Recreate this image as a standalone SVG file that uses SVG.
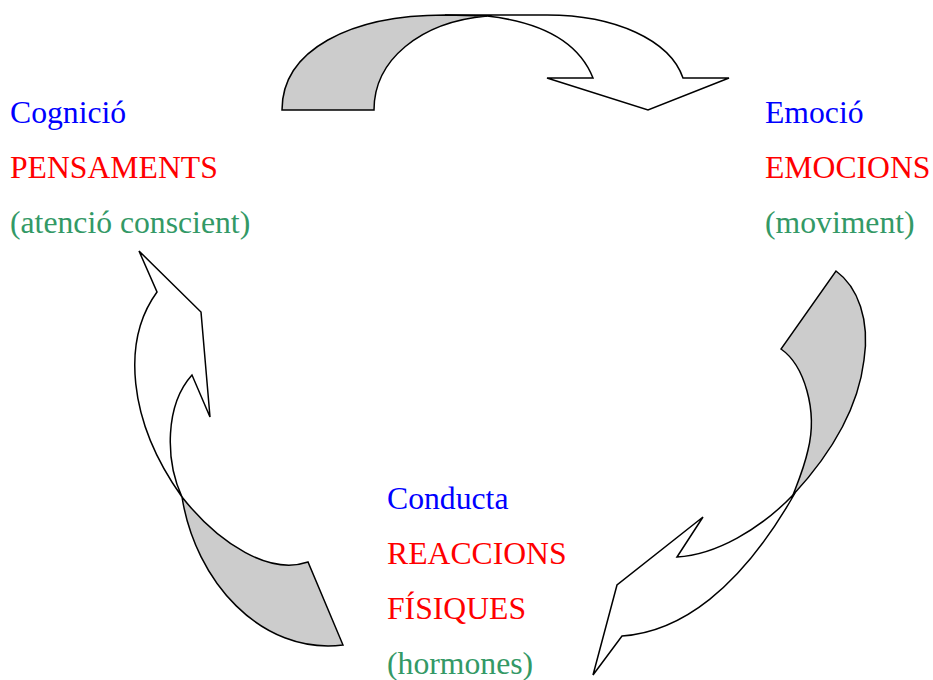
<svg xmlns="http://www.w3.org/2000/svg" width="933" height="680" viewBox="0 0 933 680">
<style>
text{font-family:"Liberation Serif","Times New Roman",serif;font-size:31.7px}
.b{fill:#0000ff}.r{fill:#ff0000}.g{fill:#339966}
.w{fill:#ffffff;stroke:#000;stroke-width:1.5;stroke-linejoin:miter}
.s{fill:#cccccc;stroke:#000;stroke-width:1.5;stroke-linejoin:miter}
</style>
<rect width="933" height="680" fill="#fff"/>
<g id="connectors">
<g id="arrow-top">
<path class="w" d="M445,15 L547,15 C615,15 670,40 683,78 L729,78 L648,110 L547,78 L593,78 C578,40 540,22 487,16 Z"/>
<path class="s" d="M282,110 C282,50 350,15 445,15 L487,16 C420,22 374,60 374,110 Z"/>
</g>
<g id="arrow-right">
<path class="w" d="M795,493 C760,530 715,555 677,557 L703,517 L617,585 L593,675 L622,636 C680,632 740,590 795,493 Z"/>
<path class="s" d="M836,271 C858,287 870,320 864,360 C858,410 830,455 793,495 C798,482 804,468 808,450 C818,410 804,365 781,349 Z"/>
</g>
<g id="arrow-left">
<path class="w" d="M182,497 C165,460 165,405 192,375 L210,417 L201,312 L139,251 L157,292 C122,340 127,420 182,497 Z"/>
<path class="s" d="M308,562 C270,575 220,545 182,497 C195,580 260,655 343,645 Z"/>
</g>
</g>
<g id="node-cognicio">
<text x="10" y="123" class="b">Cognició</text>
<text x="10" y="178" class="r">PENSAMENTS</text>
<text x="10" y="233" class="g">(atenció conscient)</text>
</g>
<g id="node-emocio">
<text x="765" y="123" class="b">Emoció</text>
<text x="765" y="178" class="r">EMOCIONS</text>
<text x="765" y="233" class="g">(moviment)</text>
</g>
<g id="node-conducta">
<text x="387" y="509" class="b">Conducta</text>
<text x="387" y="564" class="r">REACCIONS</text>
<text x="387" y="619" class="r">FÍSIQUES</text>
<text x="387" y="674" class="g">(hormones)</text>
</g>
</svg>
